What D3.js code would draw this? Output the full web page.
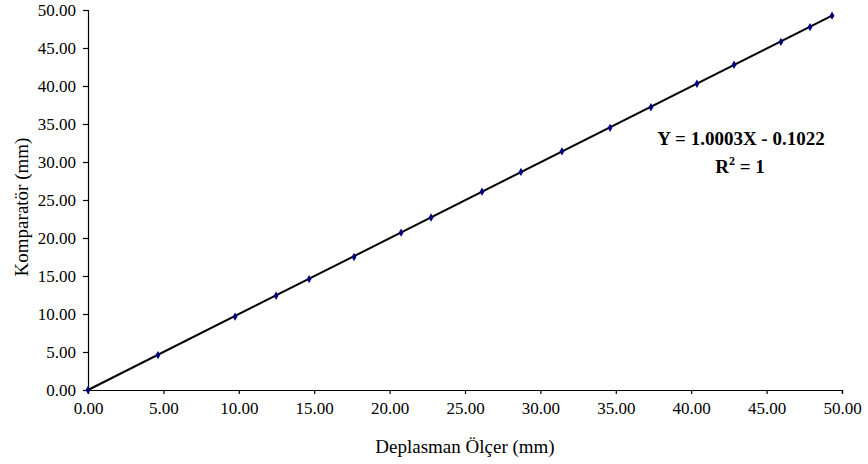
<!DOCTYPE html>
<html>
<head>
<meta charset="utf-8">
<script src="https://cdn.jsdelivr.net/npm/d3@7"></script>
<style>
    body { margin: 0; background: #fff; }
    svg text { font-family: 'Liberation Serif', 'DejaVu Serif', serif !important; fill: #000; }
    .tick text { font-size: 17px; }
</style>
</head>
<body>
<svg id="chart" width="868" height="464"></svg>
<script>
// measured values
const xValues = [0, 4.64, 9.75, 12.47, 14.66, 17.64, 20.76, 22.75, 26.13, 28.71, 31.43, 34.62, 37.33, 40.38, 42.84, 45.95, 47.88, 49.34];
const yValues = [0, 4.6, 9.65, 12.4, 14.6, 17.5, 20.7, 22.7, 26.1, 28.7, 31.4, 34.5, 37.2, 40.3, 42.8, 45.8, 47.75, 49.25];
const xTicks = d3.range(0, 50.01, 5);
const yTicks = d3.range(0, 50.01, 5);
const slope = 1.0003, intercept = -0.1022;

const svg = d3.select('#chart');
const margin = {left: 88, right: 26, top: 10, bottom: 74};
const width = 868, height = 464;

const x = d3.scaleLinear().domain([0, 50]).range([margin.left, width - margin.right]);
const y = d3.scaleLinear().domain([0, 50]).range([height - margin.bottom, margin.top]);

const xAxis = svg.append('g')
    .attr('transform', `translate(0,${height - margin.bottom})`)
    .call(d3.axisBottom(x).tickValues(xTicks).tickFormat(d3.format('.2f')).tickSizeOuter(0).tickSize(4).tickPadding(8));
const yAxis = svg.append('g')
    .attr('transform', `translate(${margin.left},0)`)
    .call(d3.axisLeft(y).tickValues(yTicks).tickFormat(d3.format('.2f')).tickSizeOuter(0).tickSize(5).tickPadding(7));

[xAxis, yAxis].forEach(a => {
    a.attr('font-size', 17);
    a.selectAll('text').style('font-size', '17px').attr('fill', '#000');
    a.selectAll('line, path').attr('stroke', '#000').attr('stroke-width', 1.2);
});

const pts = xValues.map((v, i) => ({x: v, y: yValues[i]}));

// trendline
const x0 = d3.min(xValues), x1 = d3.max(xValues);
svg.append('line')
    .attr('x1', x(x0)).attr('y1', y(Math.max(0, slope * x0 + intercept)))
    .attr('x2', x(x1)).attr('y2', y(slope * x1 + intercept))
    .attr('stroke', '#000').attr('stroke-width', 2);

svg.selectAll('path.pt')
    .data(pts)
    .enter()
    .append('path')
    .attr('class', 'pt')
    .attr('d', d3.symbol(d3.symbolDiamond, 20))
    .attr('transform', d => `translate(${x(d.x)},${y(d.y)})`)
    .attr('fill', '#000080');

svg.append('text')
    .attr('x', 465)
    .attr('y', 453)
    .attr('text-anchor', 'middle')
    .style('font-size', '19px')
    .text('Deplasman Ölçer (mm)');

svg.append('text')
    .attr('transform', `translate(28,207) rotate(-90)`)
    .attr('text-anchor', 'middle')
    .style('font-size', '19px')
    .text('Komparatör (mm)');

const eq = svg.append('g').attr('font-weight', 'bold').style('font-size', '19px');
eq.append('text')
    .attr('x', 741).attr('y', 145)
    .attr('text-anchor', 'middle')
    .text('Y = 1.0003X - 0.1022');
const r2 = eq.append('text')
    .attr('x', 740).attr('y', 173)
    .attr('text-anchor', 'middle');
r2.append('tspan').text('R');
r2.append('tspan').attr('dy', -8).style('font-size', '12px').text('2');
r2.append('tspan').attr('dy', 8).text(' = 1');
</script>
</body>
</html>
